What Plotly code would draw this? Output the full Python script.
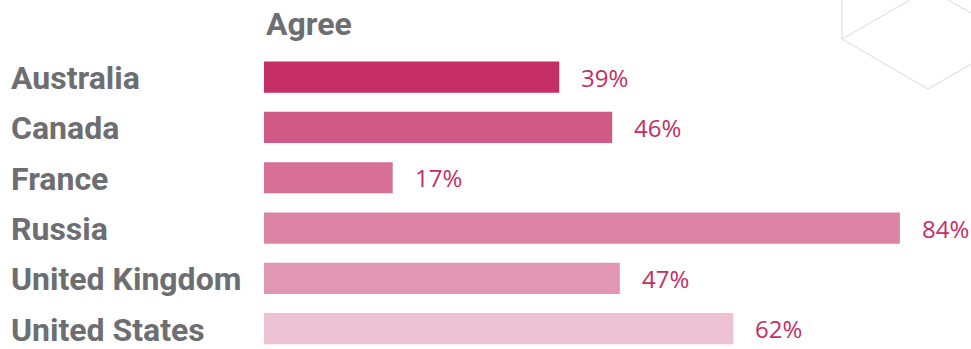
import plotly.graph_objects as go

countries = ["Australia", "Canada", "France", "Russia", "United Kingdom", "United States"]
agree = [39, 46, 17, 84, 47, 62]
bar_colors = ["#C52F66", "#D05A86", "#D76E94", "#DC83A4", "#E197B4", "#ECC1D2"]
value_labels = [f"{v}%" for v in agree]
title_text = "Agree"

W, H = 971, 349
ML, MT, MR, MB = 264, 52, 0, 0
PW, PH = W - ML - MR, H - MT - MB
px_per_unit = 7.57
row_px = 50.3

label_font = "Roboto"
gray = "#6D6E71"
pink = "#C42E65"

fig = go.Figure()
fig.add_trace(go.Bar(
    y=list(range(len(countries))),
    x=agree,
    orientation="h",
    marker=dict(color=bar_colors, line=dict(width=0)),
    width=0.62,
    hoverinfo="skip",
))

annotations = []
for i, (c, v, t) in enumerate(zip(countries, agree, value_labels)):
    annotations.append(dict(
        xref="paper", yref="y", x=(9 - ML) / PW, y=i, xanchor="left", yanchor="middle",
        text=c, showarrow=False, yshift=-1,
        font=dict(family=label_font, size=32, color=gray, weight="bold"),
    ))
    annotations.append(dict(
        xref="x", yref="y", x=v, y=i, xanchor="left", yanchor="middle",
        xshift=20, text=t, showarrow=False,
        font=dict(family="Open Sans", size=24, color=pink),
    ))
annotations.append(dict(
    xref="paper", yref="paper", x=0, y=(H - 24 - MB) / PH, xanchor="left", yanchor="middle",
    text=title_text, showarrow=False,
    font=dict(family=label_font, size=32, color=gray, weight="bold"),
))

def pp(px, py):
    return (px - ML) / PW, (H - MB - py) / PH

hex_lines = [
    [(842, -5), (842, 39), (928, 89), (980, 59)],
    [(842, 39), (910, 0)],
    [(948, 0), (980, 18)],
]
shapes = []
for seg in hex_lines:
    pts = [pp(*p) for p in seg]
    path = "M " + " L ".join(f"{x:.5f},{y:.5f}" for x, y in pts)
    shapes.append(dict(type="path", xref="paper", yref="paper", path=path,
                       line=dict(color="#E3E3E3", width=1.3), layer="below"))

fig.update_layout(
    width=W, height=H,
    margin=dict(l=ML, r=MR, t=MT, b=MB),
    paper_bgcolor="white", plot_bgcolor="white",
    showlegend=False,
    xaxis=dict(range=[0, PW / px_per_unit], visible=False, fixedrange=True),
    yaxis=dict(range=[(PH / row_px) - 0.5, -0.5], visible=False, fixedrange=True),
    annotations=annotations,
    shapes=shapes,
)

fig.write_html("out.html")
